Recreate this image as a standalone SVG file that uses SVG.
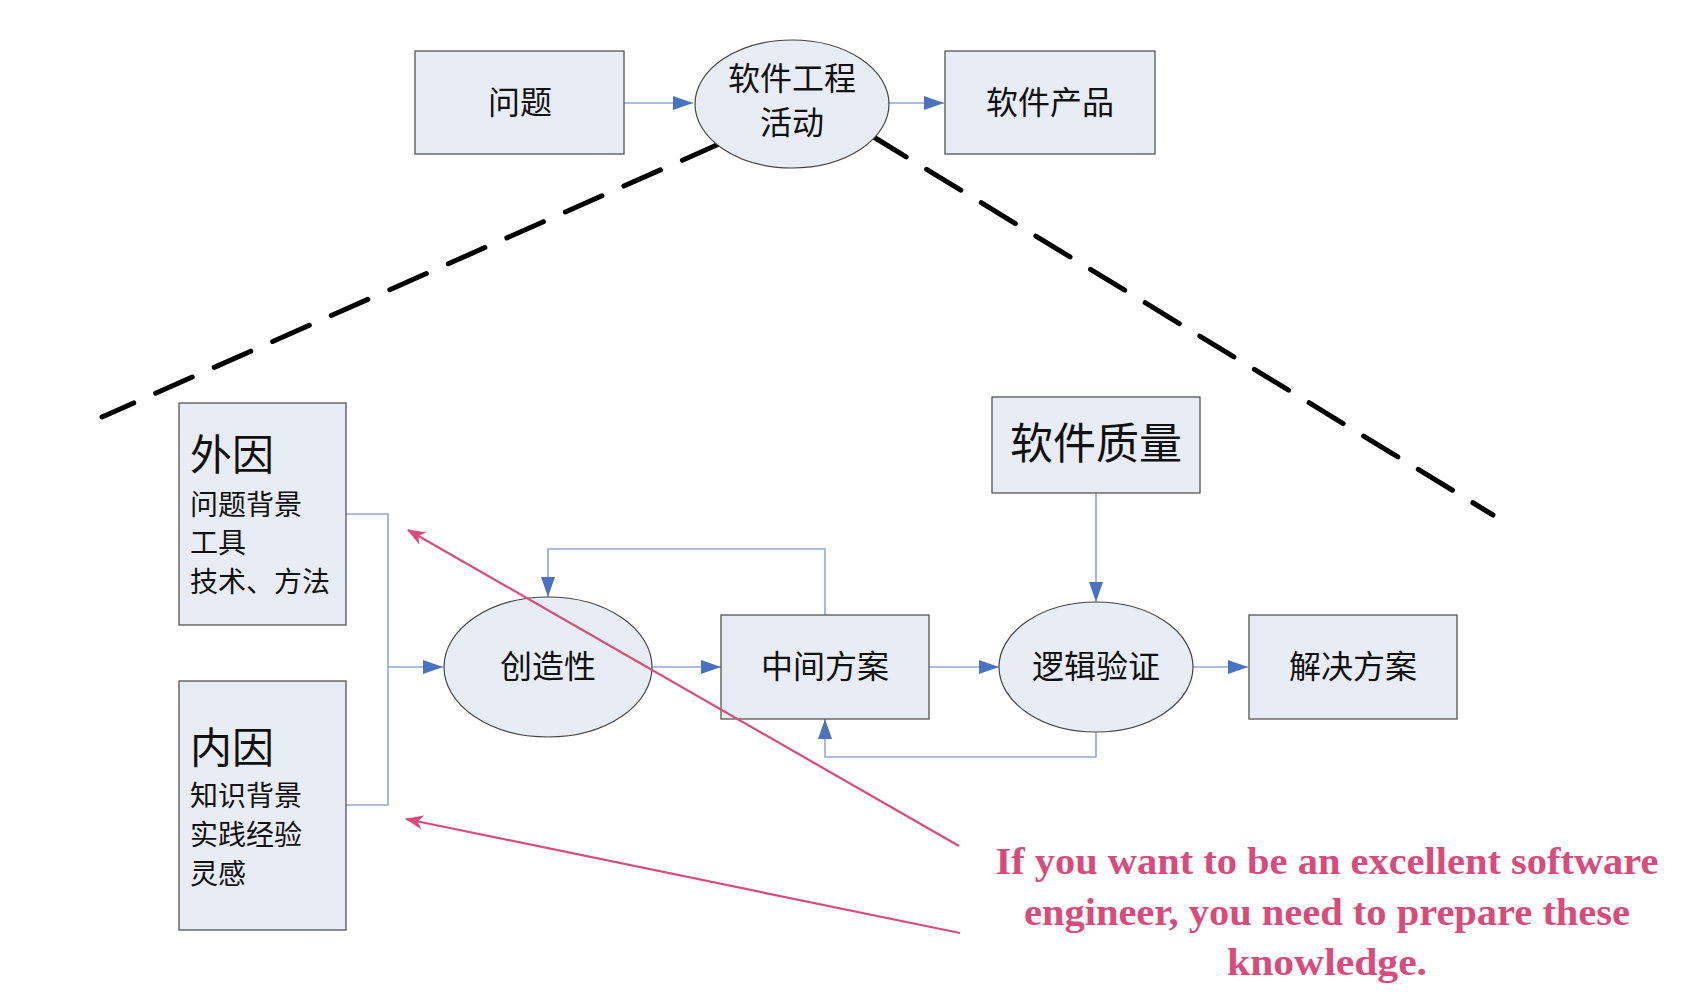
<svg xmlns="http://www.w3.org/2000/svg" width="1692" height="1000" viewBox="0 0 1692 1000">
<defs>
<style>
.box{fill:#E8ECF5;stroke:#555;stroke-width:1.3}
.ell{fill:#E8ECF5;stroke:#444;stroke-width:1.2}
.cn{fill:none;stroke:#8FA9D8;stroke-width:1.6}
.dash{fill:none;stroke:#000;stroke-width:5;stroke-dasharray:40 24;stroke-linecap:round}
.red{fill:none;stroke:#D94B7B;stroke-width:2.2}
.t{font-family:"Noto Sans CJK SC","Noto Sans",sans-serif;fill:#111}
.m{font-size:32px;text-anchor:middle}
.en{font-family:"Liberation Serif",serif;font-weight:bold;font-size:37px;fill:#D94B7B;text-anchor:middle}
</style>
<marker id="ab" viewBox="0 0 20 14" refX="20" refY="7" markerWidth="20" markerHeight="14" markerUnits="userSpaceOnUse" orient="auto"><path d="M0,0 L20,7 L0,14 z" fill="#4A72C0"/></marker>
<marker id="ar" viewBox="0 0 18 14" refX="17" refY="7" markerWidth="18" markerHeight="14" markerUnits="userSpaceOnUse" orient="auto"><path d="M0,0 L18,7 L0,14 L5,7 z" fill="#D94B7B"/></marker>
</defs>
<rect width="1692" height="1000" fill="#fff"/>
<g id="dashes">
<line class="dash" x1="719" y1="144" x2="102" y2="417"/>
<line class="dash" x1="872" y1="136" x2="1493" y2="515"/>
</g>
<g id="connectors">
<line class="cn" x1="624" y1="103" x2="693" y2="103" marker-end="url(#ab)"/>
<line class="cn" x1="889" y1="103" x2="944" y2="103" marker-end="url(#ab)"/>
<polyline class="cn" points="346,514 388,514 388,805 346,805"/>
<line class="cn" x1="388" y1="667" x2="443" y2="667" marker-end="url(#ab)"/>
<line class="cn" x1="652" y1="667" x2="721" y2="667" marker-end="url(#ab)"/>
<line class="cn" x1="929" y1="667" x2="999" y2="667" marker-end="url(#ab)"/>
<line class="cn" x1="1193" y1="667" x2="1248" y2="667" marker-end="url(#ab)"/>
<line class="cn" x1="1096" y1="493" x2="1096" y2="602" marker-end="url(#ab)"/>
<polyline class="cn" points="825,615 825,549 548,549 548,597" marker-end="url(#ab)"/>
<polyline class="cn" points="1096,732 1096,757 825,757 825,719" marker-end="url(#ab)"/>
</g>
<g id="n-wenti"><rect class="box" x="415" y="51" width="209" height="103"/><text class="t m" x="520" y="114">问题</text></g>
<g id="n-activity"><ellipse class="ell" cx="792" cy="104" rx="97" ry="64"/><text class="t m" x="792" y="90">软件工程</text><text class="t m" x="792" y="134">活动</text></g>
<g id="n-product"><rect class="box" x="945" y="51" width="210" height="103"/><text class="t m" x="1050" y="114">软件产品</text></g>
<g id="n-waiyin"><rect class="box" x="179" y="403" width="167" height="222"/>
<text class="t" x="190" y="470" font-size="42">外因</text>
<text class="t" x="190" y="515" font-size="28">问题背景</text>
<text class="t" x="190" y="553" font-size="28">工具</text>
<text class="t" x="190" y="592" font-size="28">技术、方法</text></g>
<g id="n-neiyin"><rect class="box" x="179" y="681" width="167" height="249"/>
<text class="t" x="190" y="763" font-size="42">内因</text>
<text class="t" x="190" y="806" font-size="28">知识背景</text>
<text class="t" x="190" y="845" font-size="28">实践经验</text>
<text class="t" x="190" y="884" font-size="28">灵感</text></g>
<g id="n-chuangzao"><ellipse class="ell" cx="548" cy="667" rx="104" ry="70"/><text class="t m" x="548" y="678">创造性</text></g>
<g id="n-zhongjian"><rect class="box" x="721" y="615" width="208" height="104"/><text class="t m" x="825" y="678">中间方案</text></g>
<g id="n-luoji"><ellipse class="ell" cx="1096" cy="667" rx="97" ry="65"/><text class="t m" x="1096" y="678">逻辑验证</text></g>
<g id="n-jiejue"><rect class="box" x="1249" y="615" width="208" height="104"/><text class="t m" x="1353" y="678">解决方案</text></g>
<g id="n-zhiliang"><rect class="box" x="992" y="397" width="208" height="96"/><text class="t" x="1096" y="459" font-size="43" text-anchor="middle">软件质量</text></g>
<g id="annotation">
<line class="red" x1="959" y1="846" x2="408" y2="530" marker-end="url(#ar)"/>
<line class="red" x1="960" y1="933" x2="406" y2="819" marker-end="url(#ar)"/>
<text class="en" x="1327" y="874" textLength="663" lengthAdjust="spacingAndGlyphs">If you want to be an excellent software</text>
<text class="en" x="1327" y="925" textLength="606" lengthAdjust="spacingAndGlyphs">engineer, you need to prepare these</text>
<text class="en" x="1327" y="975" textLength="200" lengthAdjust="spacingAndGlyphs">knowledge.</text>
</g>
</svg>
